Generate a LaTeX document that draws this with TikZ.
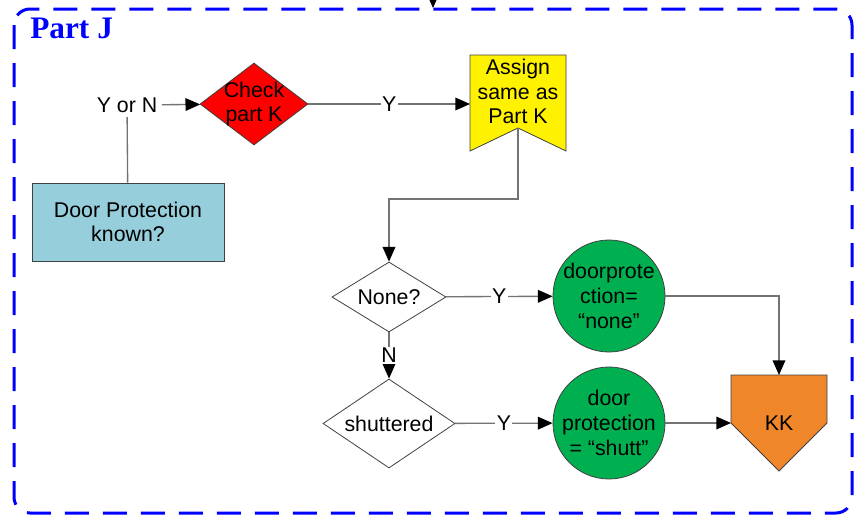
\documentclass[tikz,border=0pt]{standalone}
\usepackage{fontspec}
\setmainfont{Liberation Sans}
\newfontfamily\titlefont{Liberation Serif}
\usetikzlibrary{shapes.geometric,arrows.meta,backgrounds}
\definecolor{frameblue}{RGB}{0,0,255}
\definecolor{doorblue}{RGB}{150,206,220}
\definecolor{okgreen}{RGB}{0,176,80}
\definecolor{kkorange}{RGB}{240,134,42}
\definecolor{linegray}{RGB}{115,115,115}
\begin{document}
\begin{tikzpicture}[x=0.75pt,y=-0.75pt,
  every node/.style={font=\fontsize{16}{18.5}\selectfont,align=center},
  box/.style={draw=black!75,line width=0.6pt},
  choice/.style={box,diamond,aspect=1.4,inner sep=-3pt},
  result/.style={box,circle,fill=okgreen,minimum size=84pt,inner sep=-4pt},
  plain/.style={outer sep=0pt,inner sep=0pt},
  conn/.style={draw=linegray,line width=1pt,-{Triangle[length=11pt,width=9.5pt,color=black]}},
  yes/.style={fill=white,inner sep=1pt}]
\useasboundingbox (0,0) rectangle (858,515);
\draw[frameblue,line width=2.25pt,dash pattern=on 18pt off 10.5pt,rounded corners=12pt] (14,9) rectangle (852,513);
\node[anchor=base west,inner sep=0pt,text=frameblue,font=\titlefont\bfseries\fontsize{23.5}{28}\selectfont] (title) at (30,38) {Part J};
\coordinate (entry) at (433,-12);
\coordinate (framein) at (433,8);
\node[box,fill=doorblue,minimum width=144pt,minimum height=58.5pt] (door) at (128,222) {Door Protection\\known?};
\node (yn) at (127,105) {Y or N};
\node[choice,fill=red,minimum width=81pt,minimum height=61.5pt] (check) at (254,104) {Check\\part K};
\node[plain,minimum width=72pt,minimum height=54.75pt] (assign) at (518,91.5) {Assign\\same as\\Part K};
\node[choice,minimum width=85.5pt,minimum height=52.5pt] (none) at (389,297) {None?};
\node[choice,minimum width=99pt,minimum height=66.75pt] (shut) at (389,423.5) {shuttered};
\node[result] (dnone) at (609,296) {doorprote\\ction=\\“none”};
\node[result] (dshut) at (609,423) {door\\protection\\= “shutt”};
\node[plain,minimum width=72pt,minimum height=72pt] (kk) at (779,423) {KK};
\begin{scope}[on background layer]
\draw[box,fill=yellow] (assign.north west) -- (assign.north east) -- ([yshift=-17.25pt]assign.south east)
  -- (assign.south) -- ([yshift=-17.25pt]assign.south west) -- cycle;
\draw[box,fill=kkorange] (kk.north west) -- (kk.north east) -- (kk.east) -- (kk.south) -- (kk.west) -- cycle;
\end{scope}
\draw[conn] (entry) -- (framein);
\draw[draw=linegray,line width=1pt] (door) -- (yn);
\draw[conn] (yn) -- (check);
\draw[conn] (check) -- node[yes] {Y} (check -| assign.west);
\draw[conn] (assign.south) -- ++(0,71) -| (none.north);
\draw[conn] (none) -- node[yes] {Y} (dnone);
\draw[conn] (none) -- node[yes] {N} (shut);
\draw[conn] (shut) -- node[yes] {Y} (dshut);
\draw[conn] (dnone) -| (kk.north);
\draw[conn] (dshut) -- (kk.west);
\end{tikzpicture}
\end{document}
